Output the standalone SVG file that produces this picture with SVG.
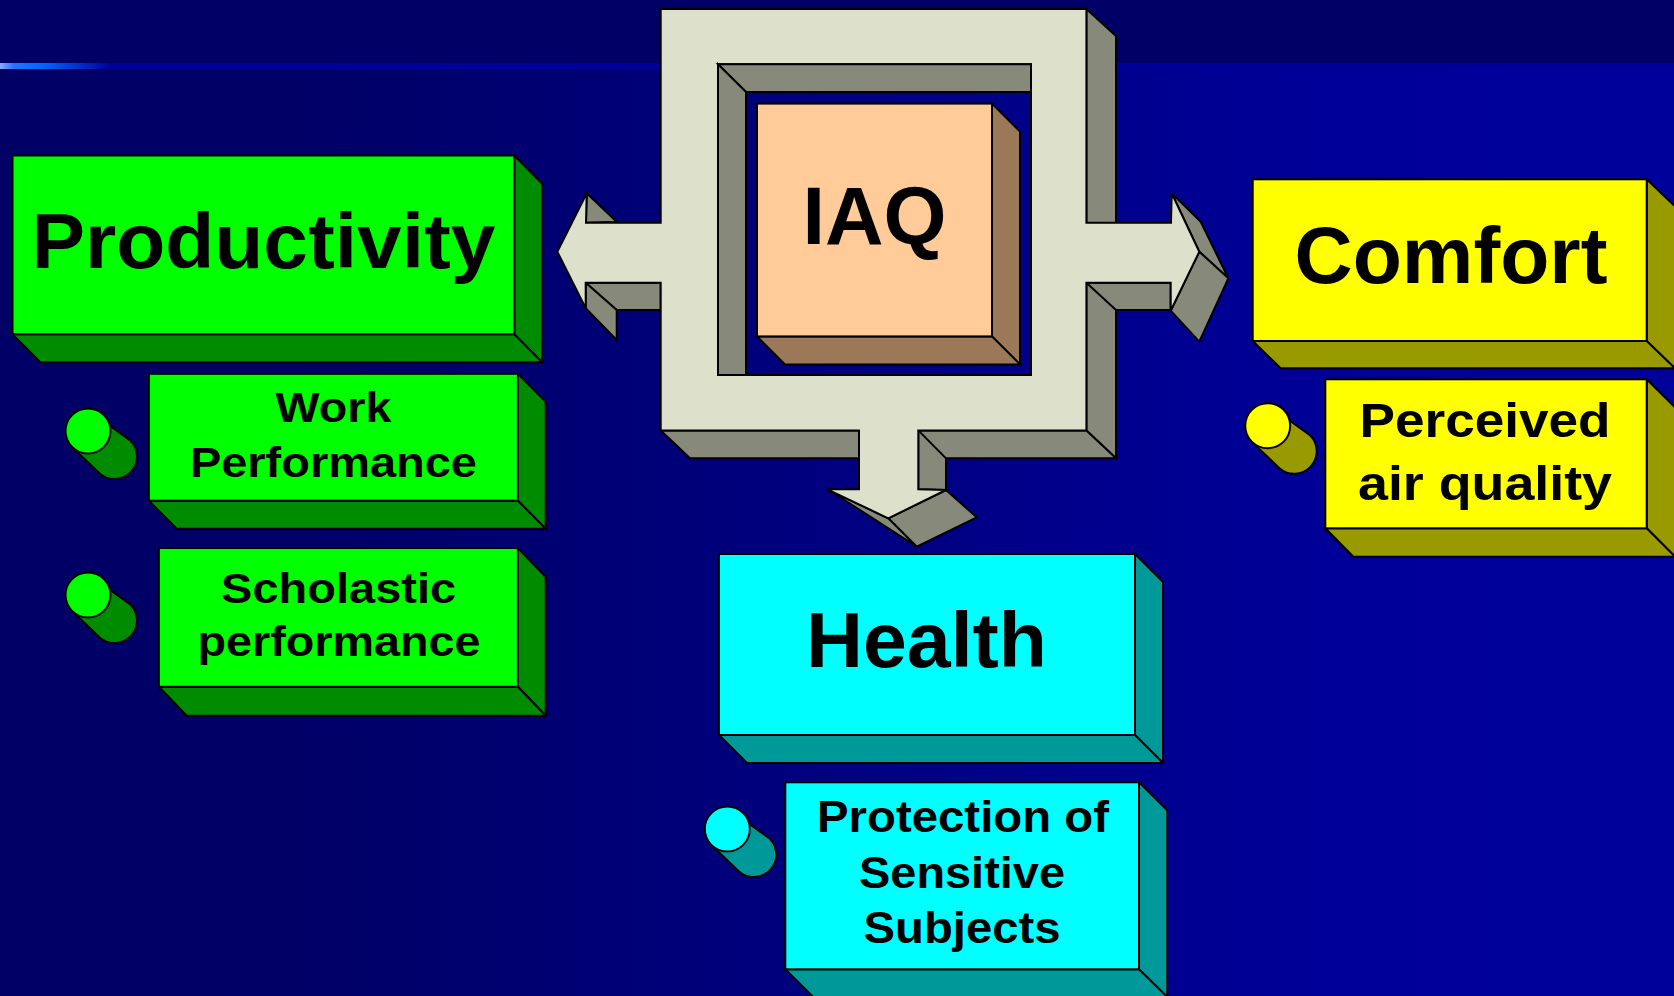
<svg xmlns="http://www.w3.org/2000/svg" width="1674" height="996" viewBox="0 0 1674 996">
<defs>
<linearGradient id="bg" x1="0" y1="0" x2="1674" y2="0" gradientUnits="userSpaceOnUse">
<stop offset="0" stop-color="#000066"/><stop offset="0.2" stop-color="#000068"/><stop offset="0.8" stop-color="#000099"/><stop offset="1" stop-color="#00009b"/>
</linearGradient>
<linearGradient id="line" x1="0" y1="0" x2="1674" y2="0" gradientUnits="userSpaceOnUse">
<stop offset="0" stop-color="#88aaff"/><stop offset="0.008" stop-color="#2a72ff"/><stop offset="0.025" stop-color="#0066ff"/><stop offset="0.066" stop-color="#000099"/><stop offset="1" stop-color="#000099"/>
</linearGradient>
<path id="cyl" d="M-15.6,16.2 L11.4,42.2 A22.5,22.5 0 0 0 42.6,9.8 L15.6,-9.8 Z"/>
</defs>
<style>
.e{stroke:#000;stroke-width:2;stroke-linejoin:miter}
.lt{fill:#dde1cb}.gy{fill:#878a7b}
.gf{fill:#00ff00}.gd{fill:#008c00}
.yf{fill:#ffff00}.yd{fill:#999900}
.cf{fill:#00ffff}.cd{fill:#009999}
.of{fill:#ffcc99}.od{fill:#9a7858}
text{font-family:"Liberation Sans",Arial,sans-serif;font-weight:bold;fill:#000;text-anchor:middle}
</style>
<rect x="0" y="0" width="1674" height="996" fill="url(#bg)"/>
<rect x="0" y="0" width="1674" height="63" fill="#000066"/>
<rect x="0" y="63" width="1674" height="6" fill="url(#line)"/>

<g id="connectors">
<polygon class="e gy" points="1086.4,8.9 1116,36 1116,458.3 1086.4,430.4"/>
<polygon class="e gy" points="660.7,430.4 690,458.3 1116,458.3 1086.4,430.4"/>
<polygon class="e gy" points="1086.4,282.7 1170.7,282.7 1170.7,310 1116,310"/>
<polygon class="e gy" points="1171.7,193.3 1200.7,221.7 1228.3,278.3 1199.3,251.7"/>
<polygon class="e gy" points="1199.3,251.7 1228.3,278.3 1199.3,341.7 1170.7,310.7"/>
<polygon class="e gy" points="918.3,430.4 946,458.3 946,490 918.3,489.3"/>
<polygon class="e gy" points="888.3,518.3 946,490 976.7,517.3 916.7,546.7"/>
<polygon class="e gy" points="827.3,489.3 888.3,518.3 916.7,546.7 836.7,495"/>
<polygon class="e gy" points="586.7,193.3 616.7,221.7 586,222.7"/>
<polygon class="e gy" points="585.7,282.7 660.7,282.7 660.7,310 616.7,310"/>
<polygon class="e gy" points="585.7,282.7 616.7,310 616.7,340 585.7,308.3"/>
<path class="e lt" fill-rule="evenodd" d="M660.7,8.9 L1086.4,8.9 L1086.4,222.7 L1171,222.7 L1171.7,193.3 L1199.3,251.7 L1170.7,310.7 L1170.7,282.7 L1086.4,282.7 L1086.4,430.4 L918.3,430.4 L918.3,489.3 L946,490 L888.3,518.3 L827.3,489.3 L859,489.3 L859,430.4 L660.7,430.4 L660.7,282.7 L585.7,282.7 L585.7,308.3 L557.3,251.7 L586.7,193.3 L586,222.7 L660.7,222.7 Z M718,64.3 L1031,64.3 L1031,375 L718,375 Z"/>
<polygon class="e gy" points="718,64.3 1031,64.3 1031,92 746,92"/>
<polygon class="e gy" points="718,64.3 746,92 746,375 718,375"/>
</g>

<g id="iaq">
<polygon class="e od" points="992,103.6 1020,131.6 1020,364.4 992,336.4"/>
<polygon class="e od" points="757,336.4 785,364.4 1020,364.4 992,336.4"/>
<rect class="e of" x="757" y="103.6" width="235" height="232.8"/>
<text x="874.5" y="244" font-size="81">IAQ</text>
</g>

<g id="productivity">
<polygon class="e gd" points="514.3,155.5 542.1,183.5 542.1,362.2 514.3,334.2"/>
<polygon class="e gd" points="12.5,334.2 40.3,362.2 542.1,362.2 514.3,334.2"/>
<rect class="e gf" x="12.5" y="155.5" width="501.8" height="178.7"/>
<text x="263.4" y="267.6" font-size="77" textLength="464" lengthAdjust="spacingAndGlyphs">Productivity</text>
</g>

<g id="work-performance">
<polygon class="e gd" points="517.9,373.8 545.7,401.8 545.7,528.7 517.9,500.7"/>
<polygon class="e gd" points="148.9,500.7 176.7,528.7 545.7,528.7 517.9,500.7"/>
<rect class="e gf" x="148.9" y="373.8" width="369" height="126.9"/>
<text x="333.4" y="422" font-size="42" textLength="116" lengthAdjust="spacingAndGlyphs">Work</text>
<text x="333.4" y="477.4" font-size="42" textLength="287" lengthAdjust="spacingAndGlyphs">Performance</text>
<g transform="translate(88,431)"><use href="#cyl" class="e gd"/><circle class="e gf" r="22.5"/></g>
</g>

<g id="scholastic-performance">
<polygon class="e gd" points="517.9,548 545.7,577 545.7,715.8 517.9,686.8"/>
<polygon class="e gd" points="158.9,686.8 186.7,715.8 545.7,715.8 517.9,686.8"/>
<rect class="e gf" x="158.9" y="548" width="359" height="138.8"/>
<text x="338.6" y="603.2" font-size="43" textLength="235" lengthAdjust="spacingAndGlyphs">Scholastic</text>
<text x="339" y="656" font-size="43" textLength="283" lengthAdjust="spacingAndGlyphs">performance</text>
<g transform="translate(88,595)"><use href="#cyl" class="e gd"/><circle class="e gf" r="22.5"/></g>
</g>

<g id="comfort">
<polygon class="e yd" points="1646.7,179.3 1675,206.3 1675,368.3 1646.7,341"/>
<polygon class="e yd" points="1252.7,341 1280.7,368.3 1675,368.3 1646.7,341"/>
<rect class="e yf" x="1252.7" y="179.3" width="394" height="161.7"/>
<text x="1451" y="282.7" font-size="80" textLength="313" lengthAdjust="spacingAndGlyphs">Comfort</text>
</g>

<g id="perceived-air-quality">
<polygon class="e yd" points="1646.7,379.3 1675,407.3 1675,556.7 1646.7,528.3"/>
<polygon class="e yd" points="1325.3,528.3 1353.3,556.7 1675,556.7 1646.7,528.3"/>
<rect class="e yf" x="1325.3" y="379.3" width="321.4" height="149"/>
<text x="1485" y="436.7" font-size="49" textLength="251" lengthAdjust="spacingAndGlyphs">Perceived</text>
<text x="1485" y="500" font-size="49" textLength="254" lengthAdjust="spacingAndGlyphs">air quality</text>
<g transform="translate(1267.7,425.7)"><use href="#cyl" class="e yd"/><circle class="e yf" r="22.5"/></g>
</g>

<g id="health">
<polygon class="e cd" points="1135,554 1163,582 1163,763 1135,735"/>
<polygon class="e cd" points="719,735 747,763 1163,763 1135,735"/>
<rect class="e cf" x="719" y="554" width="416" height="181"/>
<text x="926.5" y="666.7" font-size="78" textLength="241" lengthAdjust="spacingAndGlyphs">Health</text>
</g>

<g id="protection-sensitive-subjects">
<polygon class="e cd" points="1139,782.3 1167.3,810.3 1167.3,997 1139,969.3"/>
<polygon class="e cd" points="785.3,969.3 813.3,997 1167.3,997 1139,969.3"/>
<rect class="e cf" x="785.3" y="782.3" width="353.7" height="187"/>
<text x="963" y="832.3" font-size="44" textLength="292" lengthAdjust="spacingAndGlyphs">Protection of</text>
<text x="962" y="887.7" font-size="44" textLength="206" lengthAdjust="spacingAndGlyphs">Sensitive</text>
<text x="962" y="942.7" font-size="44" textLength="197" lengthAdjust="spacingAndGlyphs">Subjects</text>
<g transform="translate(727.3,829)"><use href="#cyl" class="e cd"/><circle class="e cf" r="22.5"/></g>
</g>
</svg>
